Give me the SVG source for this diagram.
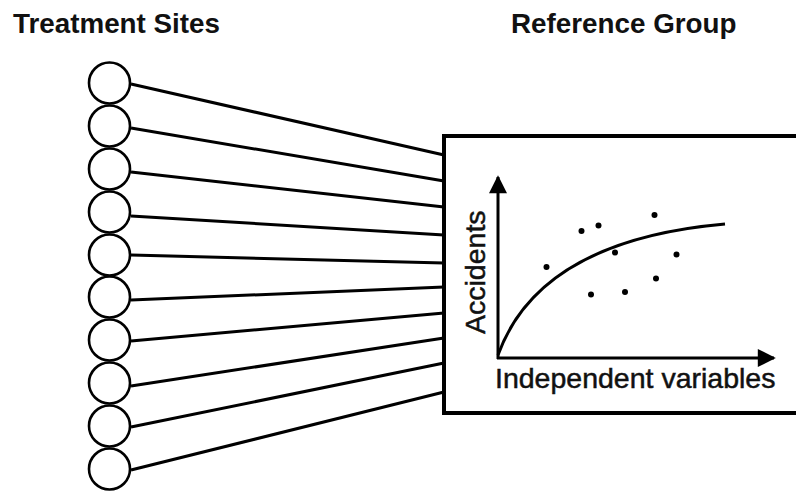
<svg xmlns="http://www.w3.org/2000/svg" width="796" height="491" viewBox="0 0 796 491">
<style>
.title{font-family:"Liberation Sans",Arial,sans-serif;font-weight:bold;font-size:27.8px;fill:#111}
.lbl{font-family:"Liberation Sans",Arial,sans-serif;font-size:28.5px;fill:#111;stroke:#111;stroke-width:0.5}
.site{fill:#fff;stroke:#000;stroke-width:2.6}
.conn line{stroke:#000;stroke-width:3}
.dot{fill:#000}
</style>
<defs>
<marker id="ah" viewBox="0 0 10 10" refX="9" refY="5" markerWidth="22" markerHeight="18" markerUnits="userSpaceOnUse" orient="auto">
<path d="M0,0 L10,5 L0,10 z" fill="#000"/>
</marker>
</defs>
<rect width="796" height="491" fill="#fff"/>
<text class="title" x="13" y="33">Treatment Sites</text>
<text class="title" x="511" y="33">Reference Group</text>
<g id="connectors" class="conn">
<line x1="131" y1="84" x2="444" y2="155"/>
<line x1="131" y1="128" x2="444" y2="181"/>
<line x1="131" y1="172" x2="444" y2="207"/>
<line x1="131" y1="216" x2="444" y2="235"/>
<line x1="131" y1="255" x2="444" y2="263"/>
<line x1="131" y1="300" x2="444" y2="287"/>
<line x1="131" y1="341" x2="444" y2="313"/>
<line x1="131" y1="386" x2="444" y2="338"/>
<line x1="131" y1="427" x2="444" y2="363"/>
<line x1="131" y1="470" x2="444" y2="392"/>
</g>
<g id="site1"><circle class="site" cx="109.5" cy="83" r="20.5"/></g>
<g id="site2"><circle class="site" cx="109.5" cy="126" r="20.5"/></g>
<g id="site3"><circle class="site" cx="109.5" cy="169" r="20.5"/></g>
<g id="site4"><circle class="site" cx="109.5" cy="212" r="20.5"/></g>
<g id="site5"><circle class="site" cx="109.5" cy="255" r="20.5"/></g>
<g id="site6"><circle class="site" cx="109.5" cy="297" r="20.5"/></g>
<g id="site7"><circle class="site" cx="109.5" cy="340" r="20.5"/></g>
<g id="site8"><circle class="site" cx="109.5" cy="383" r="20.5"/></g>
<g id="site9"><circle class="site" cx="109.5" cy="426" r="20.5"/></g>
<g id="site10"><circle class="site" cx="109.5" cy="469" r="20.5"/></g>
<g id="reference-group">
<rect x="444" y="136" width="360" height="277" fill="#fff" stroke="#000" stroke-width="4"/>
<line x1="498" y1="359" x2="498" y2="177" stroke="#000" stroke-width="3" marker-end="url(#ah)"/>
<line x1="497" y1="358" x2="774" y2="358" stroke="#000" stroke-width="3" marker-end="url(#ah)"/>
<path d="M498,355 C525,280 600,235 725,224" fill="none" stroke="#000" stroke-width="3"/>
<circle class="dot" cx="546.5" cy="267" r="3"/>
<circle class="dot" cx="581.5" cy="231" r="3"/>
<circle class="dot" cx="598.5" cy="225.5" r="3"/>
<circle class="dot" cx="654.5" cy="215" r="3"/>
<circle class="dot" cx="615" cy="252.5" r="3"/>
<circle class="dot" cx="676.5" cy="254.5" r="3"/>
<circle class="dot" cx="591" cy="294.5" r="3"/>
<circle class="dot" cx="625" cy="292" r="3"/>
<circle class="dot" cx="656" cy="278.5" r="3"/>
<text class="lbl" x="495" y="388">Independent variables</text>
<text class="lbl" transform="translate(485,334) rotate(-90)">Accidents</text>
</g>
</svg>
